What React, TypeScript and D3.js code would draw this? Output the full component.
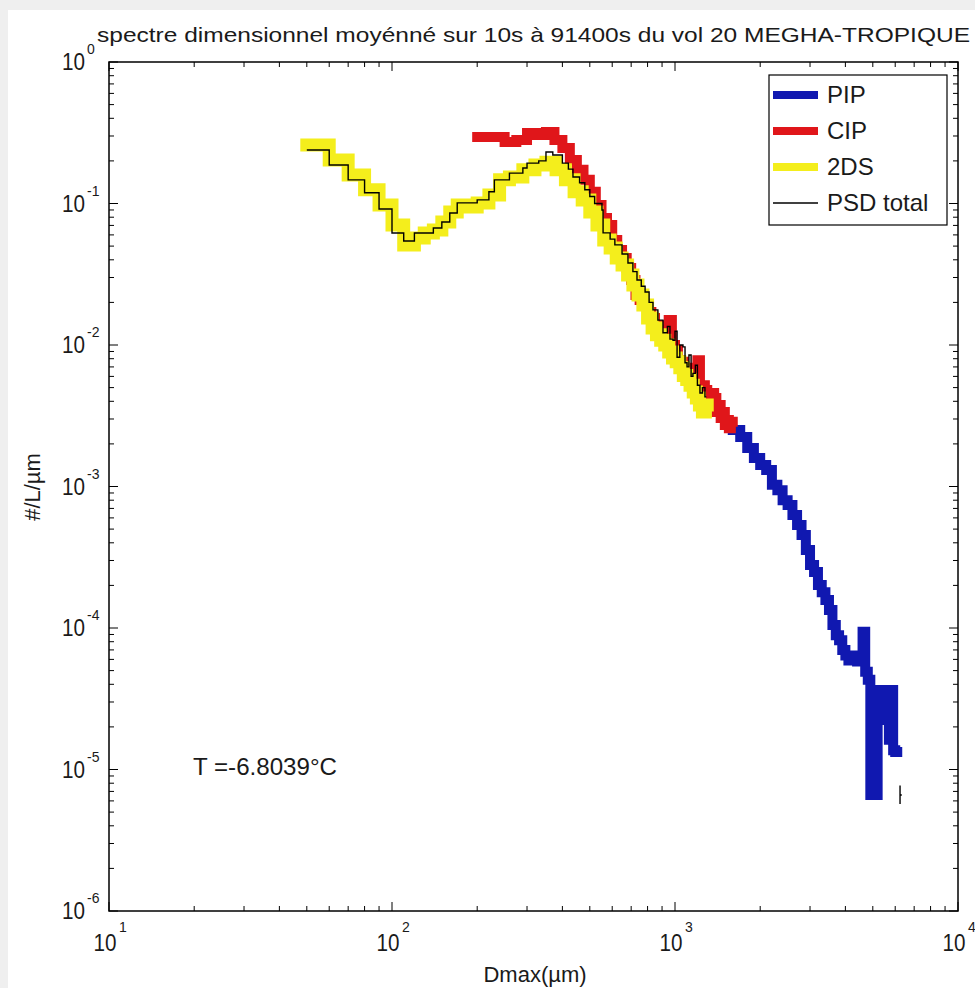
import React from "react";
import * as d3 from "d3";

// size distribution, [Dmax (µm) bin start, #/L/µm]
const pip: [number, number][] = [
  [1600, 0.00251], [1700, 0.00224], [1800, 0.00187], [1900, 0.00159], [2000, 0.00142],
  [2100, 0.00131], [2200, 0.00103], [2300, 0.00094], [2400, 0.0008], [2500, 0.00074],
  [2600, 0.00063], [2700, 0.000535], [2800, 0.000454], [2900, 0.000356], [3000, 0.000279],
  [3100, 0.000249], [3200, 0.000201], [3300, 0.000179], [3400, 0.000158], [3500, 0.000134],
  [3600, 0.000105], [3700, 8.9e-5], [3800, 8.2e-5], [3900, 7.0e-5], [4000, 6.4e-5],
  [4100, 5.9e-5], [4200, 6.1e-5], [4300, 6.4e-5], [4400, 5.8e-5], [4500, 5.9e-5],
  [4600, 9.4e-5], [4700, 4.9e-5], [4800, 4.3e-5], [4900, 6.6e-6], [5000, 3.1e-5],
  [5100, 6.6e-6], [5200, 3.65e-5], [5300, 3.1e-5], [5400, 3.65e-5], [5500, 2.24e-5],
  [5600, 3.65e-5], [5700, 1.62e-5], [5800, 3.65e-5], [5900, 1.37e-5], [6000, 1.33e-5],
];
const pipEnd = 6100;

const cip: [number, number][] = [
  [200, 0.295], [225, 0.295], [250, 0.272], [275, 0.281], [300, 0.315], [325, 0.305],
  [350, 0.32], [375, 0.281], [400, 0.247], [425, 0.203], [450, 0.173], [475, 0.147],
  [500, 0.121], [525, 0.0976], [550, 0.079], [575, 0.0705], [600, 0.0552], [625, 0.0469],
  [650, 0.0412], [675, 0.035], [700, 0.0288], [725, 0.0226], [750, 0.0208], [775, 0.0192],
  [800, 0.0171], [825, 0.0155], [850, 0.0138], [875, 0.0128], [900, 0.0118], [925, 0.0128],
  [950, 0.015], [975, 0.01], [1000, 0.0092], [1025, 0.0078], [1050, 0.0076], [1075, 0.0067],
  [1100, 0.0069], [1125, 0.0064], [1150, 0.0057], [1175, 0.0061], [1200, 0.0078], [1225, 0.00497],
  [1250, 0.0052], [1275, 0.00481], [1300, 0.00408], [1325, 0.00377], [1350, 0.00458], [1375, 0.00422],
  [1400, 0.00336], [1425, 0.00377], [1450, 0.00305], [1475, 0.00336], [1500, 0.00272], [1525, 0.00295],
  [1550, 0.00258], [1575, 0.00287],
];
const cipEnd = 1600;

const twoDS: [number, number][] = [
  [50, 0.259], [60, 0.203], [70, 0.159], [80, 0.125], [90, 0.0976], [100, 0.0705],
  [110, 0.0509], [120, 0.0571], [130, 0.0619], [140, 0.065], [150, 0.074], [160, 0.0871],
  [170, 0.0976], [180, 0.0945], [200, 0.101], [220, 0.115], [240, 0.147], [260, 0.154],
  [290, 0.173], [320, 0.187], [350, 0.196], [380, 0.173], [410, 0.147], [440, 0.121],
  [470, 0.106], [500, 0.0871], [530, 0.0705], [560, 0.0552], [590, 0.0485], [620, 0.0412],
  [650, 0.0367], [680, 0.0313], [710, 0.0265], [740, 0.0226], [770, 0.0192], [800, 0.0155],
  [830, 0.0132], [860, 0.0118], [890, 0.0108], [920, 0.01], [950, 0.00893], [980, 0.00809],
  [1010, 0.0076], [1040, 0.0069], [1070, 0.0061], [1100, 0.0057], [1130, 0.0052], [1160, 0.00466],
  [1190, 0.00422], [1220, 0.00377], [1250, 0.00336], [1280, 0.00377],
];
const twoDSEnd = 1300;

const psdTotal: [number, number][] = [
  [50, 0.239], [60, 0.187], [70, 0.147], [80, 0.119], [90, 0.0915], [100, 0.0619],
  [110, 0.0543], [120, 0.0619], [140, 0.0671], [150, 0.074], [160, 0.0857], [170, 0.101],
  [200, 0.106], [220, 0.121], [230, 0.147], [260, 0.164], [290, 0.178], [300, 0.193],
  [330, 0.2], [350, 0.231], [370, 0.22], [400, 0.193], [420, 0.175], [436, 0.154],
  [460, 0.14], [480, 0.125], [500, 0.112], [520, 0.1], [552, 0.09], [557, 0.062],
  [590, 0.056], [613, 0.051], [650, 0.044], [682, 0.038], [710, 0.033], [734, 0.0288],
  [760, 0.026], [784, 0.0237], [810, 0.02], [836, 0.0177], [870, 0.015], [907, 0.0122],
  [940, 0.0135], [960, 0.011], [984, 0.0108], [1000, 0.0125], [1017, 0.0082], [1040, 0.01],
  [1067, 0.0097], [1085, 0.0075], [1103, 0.007], [1120, 0.0085], [1140, 0.006], [1157, 0.0063],
  [1180, 0.0072], [1200, 0.0052], [1225, 0.00458], [1250, 0.005], [1276, 0.0043],
];
const psdTotalEnd = 1290;
// lone bit of the total curve at the far end
const psdTail: [number, number][] = [[6240, 7.7e-6], [6240, 5.7e-6], [6240, 6.6e-6], [6330, 6.6e-6]];

const xDecades = [10, 100, 1000, 10000];
const xExps = ["1", "2", "3", "4"];
const yDecades = [1, 0.1, 0.01, 0.001, 1e-4, 1e-5, 1e-6];
const yExps = ["0", "-1", "-2", "-3", "-4", "-5", "-6"];

const legendItems = [
  { name: "PIP", color: "#1018b0", width: 8 },
  { name: "CIP", color: "#e0161a", width: 8 },
  { name: "2DS", color: "#f4ee1c", width: 8 },
  { name: "PSD total", color: "#000", width: 1.3 },
];

const font = "'Liberation Sans', Arial, sans-serif";

export default function App() {
  const W = 975, H = 988;
  const left = 109, right = 958, top = 62, bottom = 911;

  const x = d3.scaleLog().domain([10, 1e4]).range([left, right]);
  const y = d3.scaleLog().domain([1e-6, 1]).range([bottom, top]);

  const step = d3.line<[number, number]>()
    .x((d) => x(d[0]))
    .y((d) => y(d[1]))
    .curve(d3.curveStepAfter);
  const plain = d3.line<[number, number]>().x((d) => x(d[0])).y((d) => y(d[1]));

  const withEnd = (s: [number, number][], end: number): [number, number][] =>
    [...s, [end, s[s.length - 1][1]]];

  // minor / major ticks for both log axes
  const xTicks: { v: number; major: boolean }[] = [];
  xDecades.forEach((dec, i) => {
    xTicks.push({ v: dec, major: true });
    if (i < xDecades.length - 1) for (let k = 2; k <= 9; k++) xTicks.push({ v: dec * k, major: false });
  });
  const yTicks: { v: number; major: boolean }[] = [];
  yDecades.forEach((dec, i) => {
    yTicks.push({ v: dec, major: true });
    if (i < yDecades.length - 1) for (let k = 2; k <= 9; k++) yTicks.push({ v: (dec / 10) * k, major: false });
  });
  const tl = (m: boolean) => (m ? 9 : 5);

  return (
    <div style={{ position: "absolute", left: 0, top: 0 }}>
      <svg width={W} height={H} style={{ display: "block", fontFamily: font }}>
        <rect x={0} y={0} width={W} height={H} fill="#efefef" />
        <rect x={8} y={10} width={W - 8} height={H - 10} fill="#fff" />

        <text x={97} y={42} fontSize={21} fill="#1a1a1a" textLength={873} lengthAdjust="spacingAndGlyphs">
          spectre dimensionnel moyénné sur 10s à 91400s du vol 20 MEGHA-TROPIQUE
        </text>

        <g fill="none" strokeLinejoin="miter" strokeLinecap="square">
          <path d={step(withEnd(pip, pipEnd)) || ""} stroke="#1018b0" strokeWidth={10} />
          <path d={step(withEnd(cip, cipEnd)) || ""} stroke="#e0161a" strokeWidth={10} />
          <path d={step(withEnd(twoDS, twoDSEnd)) || ""} stroke="#f4ee1c" strokeWidth={13} />
          <path d={step(withEnd(psdTotal, psdTotalEnd)) || ""} stroke="#000" strokeWidth={1.4} strokeLinecap="butt" />
          <path d={plain(psdTail) || ""} stroke="#000" strokeWidth={1.4} strokeLinecap="butt" />
        </g>

        {/* axes box and ticks */}
        <rect x={left} y={top} width={right - left} height={bottom - top} fill="none" stroke="#000" strokeWidth={1.5} />
        <g stroke="#000" strokeWidth={1}>
          {xTicks.map((t, i) => (
            <g key={"x" + i}>
              <line x1={x(t.v)} x2={x(t.v)} y1={bottom} y2={bottom - tl(t.major)} />
              <line x1={x(t.v)} x2={x(t.v)} y1={top} y2={top + tl(t.major)} />
            </g>
          ))}
          {yTicks.map((t, i) => (
            <g key={"y" + i}>
              <line x1={left} x2={left + tl(t.major)} y1={y(t.v)} y2={y(t.v)} />
              <line x1={right} x2={right - tl(t.major)} y1={y(t.v)} y2={y(t.v)} />
            </g>
          ))}
        </g>

        {/* tick labels */}
        <g fill="#1a1a1a">
          {yDecades.map((v, i) => (
            <g key={"yl" + i}>
              <text x={85} y={y(v) + 8} fontSize={23} textAnchor="end" textLength={23} lengthAdjust="spacingAndGlyphs">10</text>
              <text x={87} y={y(v) - 8} fontSize={14}>{yExps[i]}</text>
            </g>
          ))}
          {xDecades.map((v, i) => (
            <g key={"xl" + i}>
              <text x={x(v) - 4} y={951} fontSize={23} textAnchor="middle" textLength={23} lengthAdjust="spacingAndGlyphs">10</text>
              <text x={x(v) + 10} y={932} fontSize={14}>{xExps[i]}</text>
            </g>
          ))}
        </g>

        <text x={535} y={982} fontSize={22} textAnchor="middle" fill="#1a1a1a">Dmax(µm)</text>
        <text transform="translate(40,487) rotate(-90)" fontSize={22} textAnchor="middle" fill="#1a1a1a">#/L/µm</text>

        <text x={193} y={775} fontSize={23} fill="#1a1a1a" textLength={144} lengthAdjust="spacingAndGlyphs">T =-6.8039°C</text>

        {/* legend */}
        <rect x={769} y={75} width={178} height={150} fill="#fff" stroke="#000" strokeWidth={1.2} />
        {legendItems.map((it, i) => {
          const ly = 95 + i * 36;
          return (
            <g key={it.name}>
              <line x1={773} x2={818} y1={ly} y2={ly} stroke={it.color} strokeWidth={it.width} />
              <text x={827} y={ly + 8} fontSize={24} fill="#1a1a1a">{it.name}</text>
            </g>
          );
        })}
      </svg>
    </div>
  );
}
